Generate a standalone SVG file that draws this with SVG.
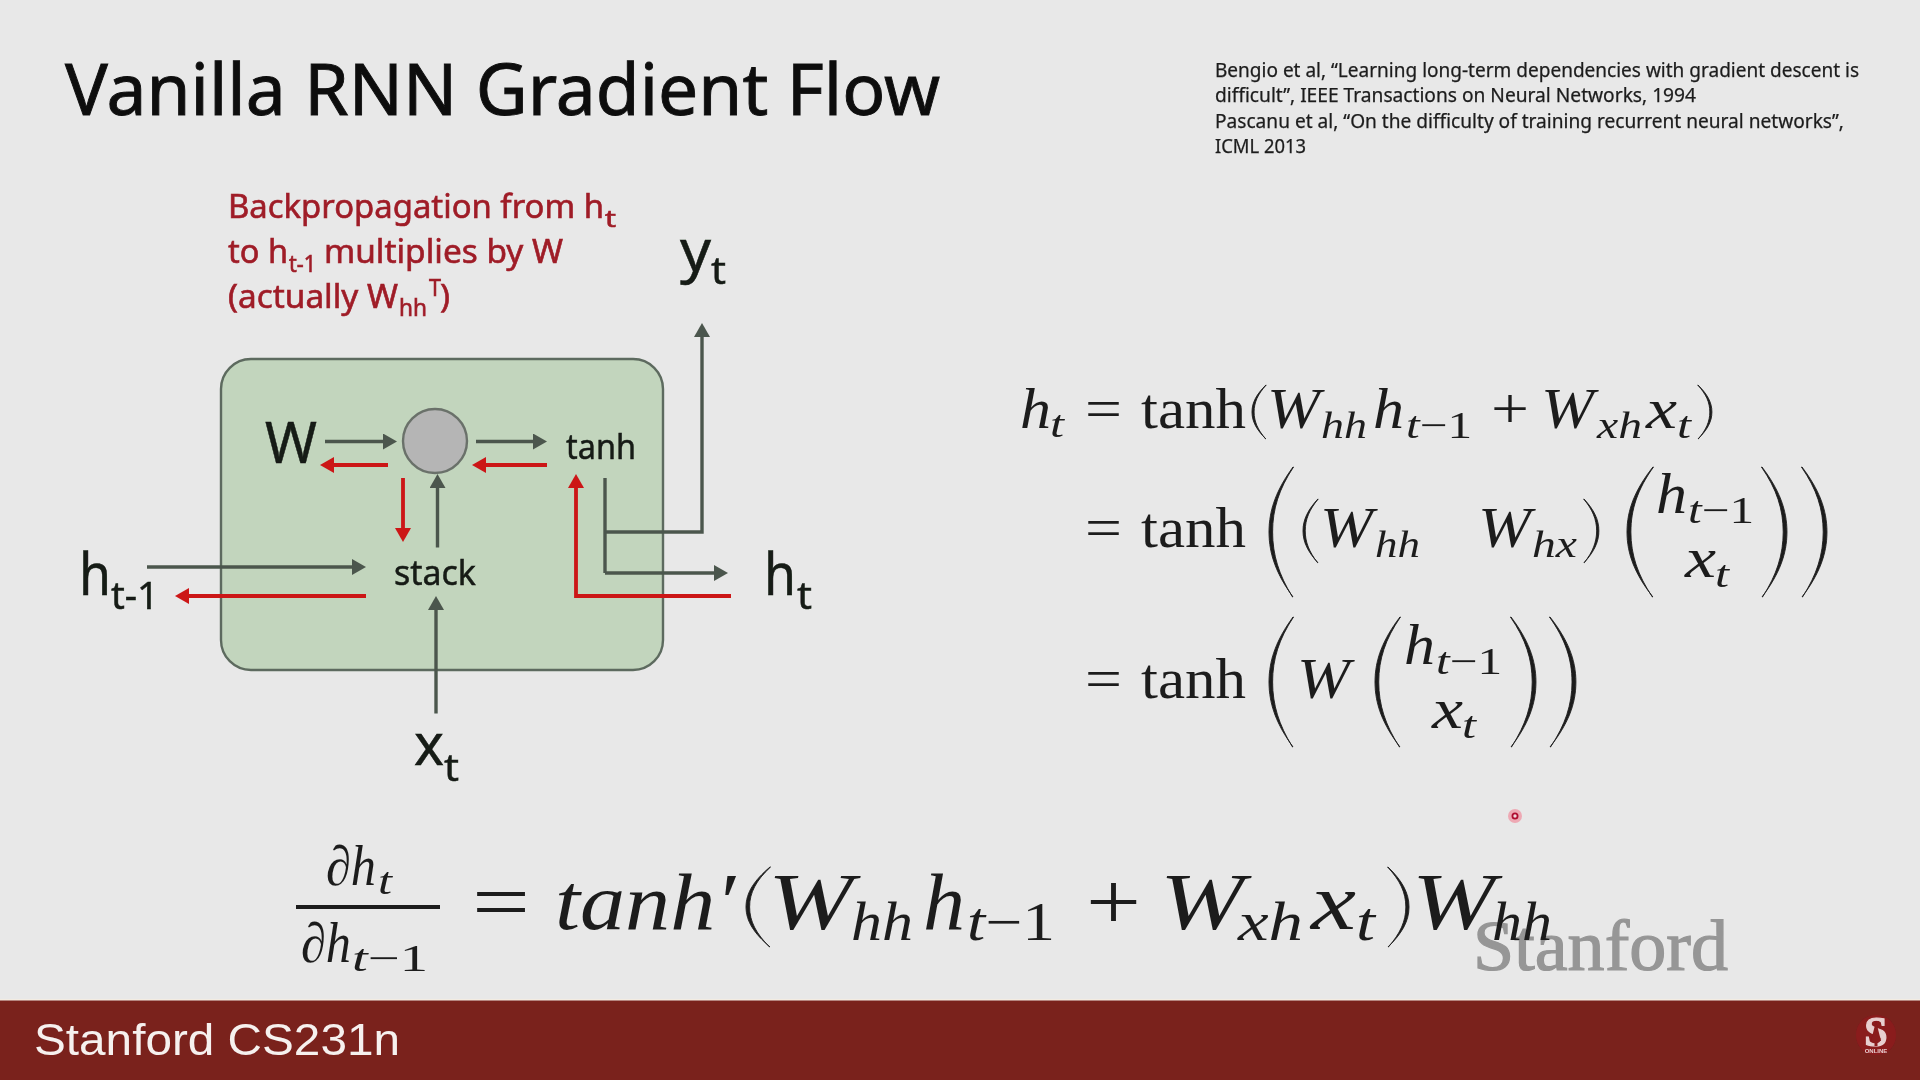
<svg xmlns="http://www.w3.org/2000/svg" width="1920" height="1080" viewBox="0 0 1920 1080">
<style>
text{fill:#1c1c1c;font-family:"Liberation Serif",serif}
.sans{font-family:"Noto Sans","Open Sans",sans-serif}
.i{font-style:italic}
.m{font-size:56px}
.s{font-size:38px}
.b{font-size:80px}
.bs{font-size:54px}
.f{font-size:58px}
.fs{font-size:39px}
.lab{font-family:"Noto Sans","Open Sans",sans-serif;fill:#141a14;stroke:#141a14;stroke-width:.5px}
.red{font-family:"Noto Sans","Open Sans",sans-serif;fill:#9f1c28;stroke:#9f1c28;stroke-width:.6px;font-size:33px}
.rs{font-size:23px}
.ref{font-family:"Noto Sans","Open Sans",sans-serif;font-size:19px;fill:#1c1c1c;stroke:#1c1c1c;stroke-width:.25px}
.g{fill:none;stroke:#4c574d;stroke-width:3.4;marker-end:url(#ag)}
.g0{fill:none;stroke:#4c574d;stroke-width:3.4}
.r{fill:none;stroke:#cc1518;stroke-width:3.8;marker-end:url(#ar)}
.p{fill:#1c1c1c;stroke:#1c1c1c;stroke-width:.9}
</style>
<defs>
<filter id="soft" x="0" y="0" width="100%" height="100%"><feGaussianBlur stdDeviation="0.55"/></filter>
<marker id="ag" markerUnits="userSpaceOnUse" markerWidth="14" markerHeight="16" viewBox="0 0 14 16" refX="3" refY="8" orient="auto"><path d="M0 0L14 8L0 16Z" fill="#4c574d"/></marker>
<marker id="ar" markerUnits="userSpaceOnUse" markerWidth="14" markerHeight="16" viewBox="0 0 14 16" refX="3" refY="8" orient="auto"><path d="M0 0L14 8L0 16Z" fill="#cc1518"/></marker>
<path id="pl" vector-effect="non-scaling-stroke" d="M24 0C8 22 0 42 0 65C0 88 8 108 24 130L23.500 130C10 108 3.600 88 3.600 65C3.600 42 10 22 24.500 0Z"/>
<path id="pr" vector-effect="non-scaling-stroke" d="M0 0C16 22 24 42 24 65C24 88 16 108 0 130L.5 130C14 108 20.400 88 20.400 65C20.400 42 14 22 -.5 0Z"/>
</defs>
<rect width="1920" height="1080" fill="#e8e8e8"/>
<g filter="url(#soft)">
<text id="title" class="sans" x="65" y="115" font-size="72" style="fill:#111;stroke:#111;stroke-width:.9px" textLength="875" lengthAdjust="spacingAndGlyphs">Vanilla RNN Gradient Flow</text>
<g id="refs">
<text class="ref" x="1215" y="77" textLength="644" lengthAdjust="spacingAndGlyphs">Bengio et al, “Learning long-term dependencies with gradient descent is</text>
<text class="ref" x="1215" y="102" textLength="481" lengthAdjust="spacingAndGlyphs">difficult”, IEEE Transactions on Neural Networks, 1994</text>
<text class="ref" x="1215" y="128" textLength="629" lengthAdjust="spacingAndGlyphs">Pascanu et al, “On the difficulty of training recurrent neural networks”,</text>
<text class="ref" x="1215" y="153" textLength="91" lengthAdjust="spacingAndGlyphs">ICML 2013</text>
</g>
<g id="caption">
<text class="red" x="228" y="218" textLength="376" lengthAdjust="spacingAndGlyphs">Backpropagation from h</text>
<text class="red rs" x="605" y="227" textLength="11" lengthAdjust="spacingAndGlyphs">t</text>
<text class="red" x="228" y="263" textLength="60" lengthAdjust="spacingAndGlyphs">to h</text>
<text class="red rs" x="289" y="272" textLength="27" lengthAdjust="spacingAndGlyphs">t-1</text>
<text class="red" x="324" y="263" textLength="239" lengthAdjust="spacingAndGlyphs">multiplies by W</text>
<text class="red" x="228" y="308" textLength="170" lengthAdjust="spacingAndGlyphs">(actually W</text>
<text class="red rs" x="399" y="316" textLength="28" lengthAdjust="spacingAndGlyphs">hh</text>
<text class="red rs" x="429" y="296" textLength="12" lengthAdjust="spacingAndGlyphs">T</text>
<text class="red" x="440" y="308" textLength="10" lengthAdjust="spacingAndGlyphs">)</text>
</g>
<g id="node-box"><rect x="221" y="359" width="442" height="311" rx="30" fill="#c2d5bd" stroke="#5d6b5e" stroke-width="2.4"/></g>
<g id="node-gate"><circle cx="435" cy="441" r="32" fill="#b5b5b5" stroke="#6a716a" stroke-width="2.4"/></g>
<g id="connectors">
<path class="g" d="M325 441.500H386"/>
<path class="g" d="M476 441.500H536"/>
<path class="r" d="M388 465H331"/>
<path class="r" d="M547 465H483"/>
<path class="r" d="M403 478V531"/>
<path class="g" d="M437.500 547.500V485"/>
<path class="g" d="M147 567H355"/>
<path class="r" d="M366 596H186"/>
<path class="g" d="M436 713.500V607"/>
<path class="g0" d="M605 478V573"/>
<path class="g" d="M605 573H717"/>
<path class="g" d="M605 532H702V334"/>
<path class="r" d="M731 596H576V485"/>
</g>
<g id="node-W"><text class="lab" x="265" y="463" font-size="57" textLength="52" lengthAdjust="spacingAndGlyphs">W</text></g>
<g id="node-tanh"><text class="lab" x="566" y="459" font-size="35" textLength="70" lengthAdjust="spacingAndGlyphs">tanh</text></g>
<g id="node-stack"><text class="lab" x="394" y="585" font-size="35" textLength="82" lengthAdjust="spacingAndGlyphs">stack</text></g>
<g id="node-ht1"><text class="lab f" x="79" y="595" textLength="32" lengthAdjust="spacingAndGlyphs">h</text><text class="lab fs" x="111" y="609" textLength="48" lengthAdjust="spacingAndGlyphs">t-1</text></g>
<g id="node-ht"><text class="lab f" x="764" y="595" textLength="32" lengthAdjust="spacingAndGlyphs">h</text><text class="lab fs" x="797" y="609" textLength="15" lengthAdjust="spacingAndGlyphs">t</text></g>
<g id="node-yt"><text class="lab f" x="680" y="271" textLength="31" lengthAdjust="spacingAndGlyphs">y</text><text class="lab fs" x="711" y="284" textLength="15" lengthAdjust="spacingAndGlyphs">t</text></g>
<g id="node-xt"><text class="lab f" x="414" y="765" textLength="30" lengthAdjust="spacingAndGlyphs">x</text><text class="lab fs" x="444" y="781" textLength="15" lengthAdjust="spacingAndGlyphs">t</text></g>
<g id="eq-system">
<text class="m i" x="1020" y="428" textLength="31" lengthAdjust="spacingAndGlyphs">h</text>
<text class="s i" x="1050" y="437" textLength="14" lengthAdjust="spacingAndGlyphs">t</text>
<text class="m" x="1085" y="428" textLength="37" lengthAdjust="spacingAndGlyphs">=</text>
<text class="m" x="1141" y="428" textLength="105" lengthAdjust="spacingAndGlyphs">tanh</text>
<use href="#pl" class="p" transform="translate(1252 385) scale(.58 .415)"/>
<text class="m i" x="1267" y="428" textLength="53" lengthAdjust="spacingAndGlyphs">W</text>
<text class="s i" x="1321" y="438" textLength="46" lengthAdjust="spacingAndGlyphs">hh</text>
<text class="m i" x="1373" y="428" textLength="31" lengthAdjust="spacingAndGlyphs">h</text>
<text class="s" x="1406" y="438" textLength="66" lengthAdjust="spacingAndGlyphs"><tspan class="i">t</tspan>−1</text>
<text class="m" x="1491" y="428" textLength="38" lengthAdjust="spacingAndGlyphs">+</text>
<text class="m i" x="1541" y="428" textLength="53" lengthAdjust="spacingAndGlyphs">W</text>
<text class="s i" x="1597" y="438" textLength="45" lengthAdjust="spacingAndGlyphs">xh</text>
<text class="m i" x="1646" y="428" textLength="31" lengthAdjust="spacingAndGlyphs">x</text>
<text class="s i" x="1677" y="438" textLength="14" lengthAdjust="spacingAndGlyphs">t</text>
<use href="#pr" class="p" transform="translate(1698 385) scale(.58 .415)"/>

<text class="m" x="1085" y="547" textLength="37" lengthAdjust="spacingAndGlyphs">=</text>
<text class="m" x="1141" y="547" textLength="105" lengthAdjust="spacingAndGlyphs">tanh</text>
<use href="#pl" class="p" transform="translate(1269 467)"/>
<use href="#pl" class="p" transform="translate(1303 499) scale(.62 .49)"/>
<text class="m i" x="1320" y="547" textLength="53" lengthAdjust="spacingAndGlyphs">W</text>
<text class="s i" x="1375" y="557" textLength="45" lengthAdjust="spacingAndGlyphs">hh</text>
<text class="m i" x="1478" y="547" textLength="53" lengthAdjust="spacingAndGlyphs">W</text>
<text class="s i" x="1532" y="557" textLength="45" lengthAdjust="spacingAndGlyphs">hx</text>
<use href="#pr" class="p" transform="translate(1584 499) scale(.62 .49)"/>
<use href="#pl" class="p" transform="translate(1627 467) scale(1.08 1)"/>
<text class="m i" x="1656" y="513" textLength="31" lengthAdjust="spacingAndGlyphs">h</text>
<text class="s" x="1688" y="523" textLength="66" lengthAdjust="spacingAndGlyphs"><tspan class="i">t</tspan>−1</text>
<text class="m i" x="1685" y="577" textLength="31" lengthAdjust="spacingAndGlyphs">x</text>
<text class="s i" x="1715" y="587" textLength="14" lengthAdjust="spacingAndGlyphs">t</text>
<use href="#pr" class="p" transform="translate(1762 467) scale(1.04 1)"/>
<use href="#pr" class="p" transform="translate(1802 467) scale(1.04 1)"/>

<text class="m" x="1085" y="698" textLength="37" lengthAdjust="spacingAndGlyphs">=</text>
<text class="m" x="1141" y="698" textLength="105" lengthAdjust="spacingAndGlyphs">tanh</text>
<use href="#pl" class="p" transform="translate(1269 617)"/>
<text class="m i" x="1297" y="698" textLength="53" lengthAdjust="spacingAndGlyphs">W</text>
<use href="#pl" class="p" transform="translate(1375 617) scale(1.04 1)"/>
<text class="m i" x="1404" y="664" textLength="31" lengthAdjust="spacingAndGlyphs">h</text>
<text class="s" x="1436" y="674" textLength="66" lengthAdjust="spacingAndGlyphs"><tspan class="i">t</tspan>−1</text>
<text class="m i" x="1432" y="728" textLength="31" lengthAdjust="spacingAndGlyphs">x</text>
<text class="s i" x="1462" y="738" textLength="14" lengthAdjust="spacingAndGlyphs">t</text>
<use href="#pr" class="p" transform="translate(1511 617) scale(1.04 1)"/>
<use href="#pr" class="p" transform="translate(1550 617) scale(1.08 1)"/>
</g>
<g id="watermark"><text x="1473" y="970" font-size="72" style="fill:#969696;stroke:#969696;stroke-width:1.2px" textLength="255" lengthAdjust="spacingAndGlyphs">Stanford</text></g>
<g id="eq-grad">
<text class="m i" x="326" y="885" textLength="50" lengthAdjust="spacingAndGlyphs">∂h</text>
<text class="s i" x="378" y="894" textLength="14" lengthAdjust="spacingAndGlyphs">t</text>
<rect x="296" y="905" width="144" height="4" fill="#1c1c1c"/>
<text class="m i" x="301" y="962" textLength="50" lengthAdjust="spacingAndGlyphs">∂h</text>
<text class="s" x="352" y="971" textLength="76" lengthAdjust="spacingAndGlyphs"><tspan class="i">t</tspan>−1</text>
<text class="b" x="472" y="929" textLength="58" lengthAdjust="spacingAndGlyphs">=</text>
<text class="b i" x="555" y="929" textLength="180" lengthAdjust="spacingAndGlyphs">tanh′</text>
<use href="#pl" class="p" transform="translate(746 867) scale(1 .615)"/>
<text class="b i" x="768" y="929" textLength="85" lengthAdjust="spacingAndGlyphs">W</text>
<text class="bs i" x="851" y="940" textLength="62" lengthAdjust="spacingAndGlyphs">hh</text>
<text class="b i" x="923" y="929" textLength="42" lengthAdjust="spacingAndGlyphs">h</text>
<text class="bs" x="967" y="940" textLength="88" lengthAdjust="spacingAndGlyphs"><tspan class="i">t</tspan>−1</text>
<text class="b" x="1086" y="929" textLength="55" lengthAdjust="spacingAndGlyphs">+</text>
<text class="b i" x="1160" y="929" textLength="84" lengthAdjust="spacingAndGlyphs">W</text>
<text class="bs i" x="1238" y="940" textLength="65" lengthAdjust="spacingAndGlyphs">xh</text>
<text class="b i" x="1311" y="929" textLength="45" lengthAdjust="spacingAndGlyphs">x</text>
<text class="bs i" x="1356" y="940" textLength="19" lengthAdjust="spacingAndGlyphs">t</text>
<use href="#pr" class="p" transform="translate(1388 867) scale(.875 .615)"/>
<text class="b i" x="1412" y="929" textLength="83" lengthAdjust="spacingAndGlyphs">W</text>
<text class="bs i" x="1492" y="940" textLength="60" lengthAdjust="spacingAndGlyphs">hh</text>
</g>
<g id="pointer"><circle cx="1515" cy="816" r="7" fill="#eea9b4"/><circle cx="1515" cy="816" r="2.600" fill="#f0d8dc" stroke="#b01030" stroke-width="1.800"/></g>
<g id="footer">
<rect y="999" width="1920" height="2" fill="#f3ece2"/>
<rect y="1000.500" width="1920" height="79.500" fill="#7a201e"/>
<text x="34" y="1055" font-size="44" style="font-family:'Liberation Sans',sans-serif;fill:#f6f1ee" textLength="366" lengthAdjust="spacingAndGlyphs">Stanford CS231n</text>
<circle cx="1876" cy="1035" r="20" fill="#8a1a1c"/>
<text x="1876" y="1046" text-anchor="middle" font-size="42" font-weight="bold" style="fill:#e8cfcf;stroke:#e8cfcf;stroke-width:1.2px">S</text>
<path d="M1876 1021L1881 1041H1877.500V1046H1874.500V1041H1871Z" fill="#8a1a1c"/>
<text x="1876" y="1053" text-anchor="middle" font-size="6" font-weight="bold" style="font-family:'Liberation Sans',sans-serif;fill:#e8cfcf">ONLINE</text>
</g>
</g>
</svg>
